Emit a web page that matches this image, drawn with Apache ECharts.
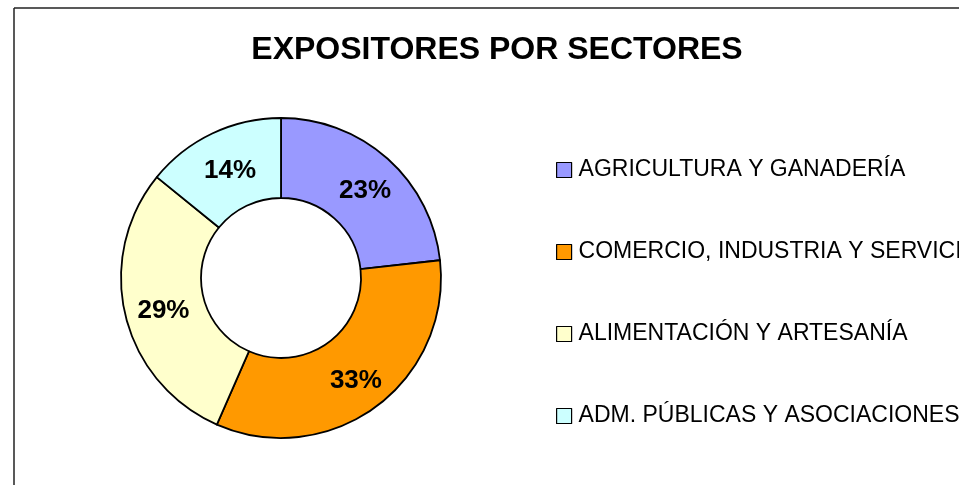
<!DOCTYPE html>
<html>
<head>
    <meta charset="utf-8">
    <title>Expositores por sectores</title>
    <script src="https://cdn.jsdelivr.net/npm/echarts@6/dist/echarts.min.js"></script>
    <style type="text/css">
        body { margin: 0; background: #ffffff; }
        #chart { width: 959px; height: 485px; }
    </style>
</head>
<body>
<div id="chart"></div>
<script>
    // datos
    var sectores = ['AGRICULTURA Y GANADERÍA', 'COMERCIO, INDUSTRIA Y SERVICIOS', 'ALIMENTACIÓN Y ARTESANÍA', 'ADM. PÚBLICAS Y ASOCIACIONES'];
    var porcentajes = [23, 33, 29, 14];
    var colores = ['#9999ff', '#ff9900', '#ffffcc', '#ccffff'];

    var myChart = echarts.init(document.getElementById('chart'));

    var datos = [];
    for (var i = 0; i < sectores.length; i++) {
        datos.push({name: sectores[i], value: porcentajes[i], itemStyle: {color: colores[i]}});
    }

    var fuente = "'Liberation Sans', Arial, sans-serif";

    var option = {
        backgroundColor: '#ffffff',
        animation: false,
        title: {
            text: 'EXPOSITORES POR SECTORES',
            left: 497,
            top: 34,
            padding: 0,
            textAlign: 'center',
            textStyle: {fontFamily: fuente, fontSize: 32, fontWeight: 'bold', color: '#000'}
        },
        // marco del area del grafico
        graphic: [
            {type: 'line', shape: {x1: 14, y1: 8, x2: 14, y2: 490}, style: {stroke: '#222', lineWidth: 1.5}},
            {type: 'line', shape: {x1: 14, y1: 8, x2: 965, y2: 8}, style: {stroke: '#222', lineWidth: 1.5}}
        ],
        legend: {
            orient: 'vertical',
            left: 556,
            top: 158,
            padding: 0,
            itemWidth: 15,
            itemHeight: 15,
            itemGap: 58,
            icon: 'rect',
            itemStyle: {borderColor: '#000', borderWidth: 1.2},
            textStyle: {fontFamily: fuente, fontSize: 23, lineHeight: 24, color: '#000', padding: [0, 0, 0, 2]},
            data: sectores
        },
        series: [{
            type: 'pie',
            center: [281, 278],
            radius: [80, 160],
            startAngle: 90,
            clockwise: true,
            avoidLabelOverlap: false,
            itemStyle: {borderColor: '#000', borderWidth: 1.8},
            label: {
                show: true,
                position: 'inside',
                offset: [2, 4],
                formatter: function (p) { return p.value + '%'; },
                fontFamily: fuente,
                fontSize: 26,
                fontWeight: 'bold',
                color: '#000'
            },
            labelLine: {show: false},
            emphasis: {disabled: true},
            data: datos
        }]
    };

    myChart.setOption(option);
</script>
</body>
</html>
